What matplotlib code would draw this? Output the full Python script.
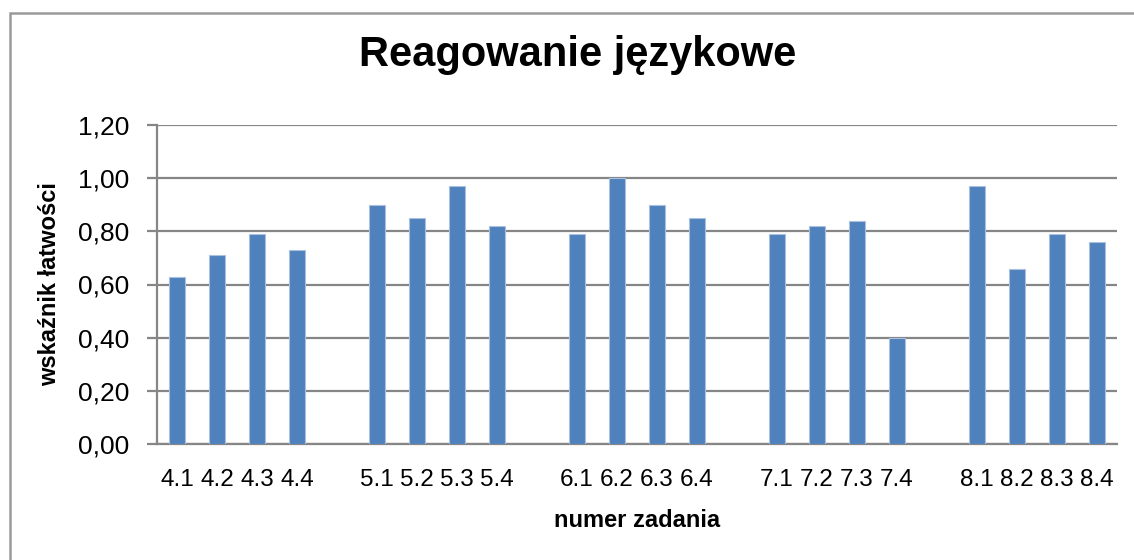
import numpy as np
import matplotlib.pyplot as plt
from matplotlib.patches import Rectangle

plt.rcParams['font.family'] = ['Liberation Sans', 'DejaVu Sans']

# task numbers, blank slots separate the groups like in the original sheet
categories = ['4.1', '4.2', '4.3', '4.4', '',
              '5.1', '5.2', '5.3', '5.4', '',
              '6.1', '6.2', '6.3', '6.4', '',
              '7.1', '7.2', '7.3', '7.4', '',
              '8.1', '8.2', '8.3', '8.4']
values = [0.63, 0.71, 0.79, 0.73, np.nan,
          0.90, 0.85, 0.97, 0.82, np.nan,
          0.79, 1.00, 0.90, 0.85, np.nan,
          0.79, 0.82, 0.84, 0.40, np.nan,
          0.97, 0.66, 0.79, 0.76]
yticks = [0.0, 0.2, 0.4, 0.6, 0.8, 1.0, 1.2]
ytick_labels = ['0,00', '0,20', '0,40', '0,60', '0,80', '1,00', '1,20']

W, H = 1134, 560
fig = plt.figure(figsize=(W / 100, H / 100), dpi=100)
ax = fig.add_axes([157 / W, 1 - 444 / H, (1117 - 157) / W, (444 - 125) / H])

x = np.arange(len(categories))
ax.bar(x, values, width=0.4, color='#4f81bd', edgecolor='#a9c1de', linewidth=0.8, zorder=3)

ax.set_xlim(-0.5, len(categories) - 0.5)
ax.set_ylim(0, 1.2)
ax.set_yticks(yticks)
ax.set_yticklabels(ytick_labels, fontsize=19)
ax.set_xticks(x)
ax.set_xticklabels(categories, fontsize=17.5)

ax.grid(axis='y', color='#868686', linewidth=1.6, zorder=1)
ax.tick_params(axis='y', length=7, width=1.6, color='#868686', pad=13)
ax.tick_params(axis='x', length=0, pad=18)
for side in ['top', 'right']:
    ax.spines[side].set_visible(False)
for side in ['left', 'bottom']:
    ax.spines[side].set_color('#868686')
    ax.spines[side].set_linewidth(1.6)

ax.set_ylabel('wskaźnik łatwości', fontsize=17, fontweight='bold', labelpad=12)
ax.set_xlabel('numer zadania', fontsize=17, fontweight='bold', labelpad=13)
fig.text(578 / W, 1 - 66 / H, 'Reagowanie językowe', fontsize=30, fontweight='bold',
         ha='center', va='baseline')

# chart area frame (cropped at right and bottom)
fig.patches.append(Rectangle((10 / W, -0.1), 1.2, 1 - 13 / H + 0.1, transform=fig.transFigure,
                             fill=False, edgecolor='#9a9a9a', linewidth=1.8))

fig.savefig('out.png', dpi=100)
